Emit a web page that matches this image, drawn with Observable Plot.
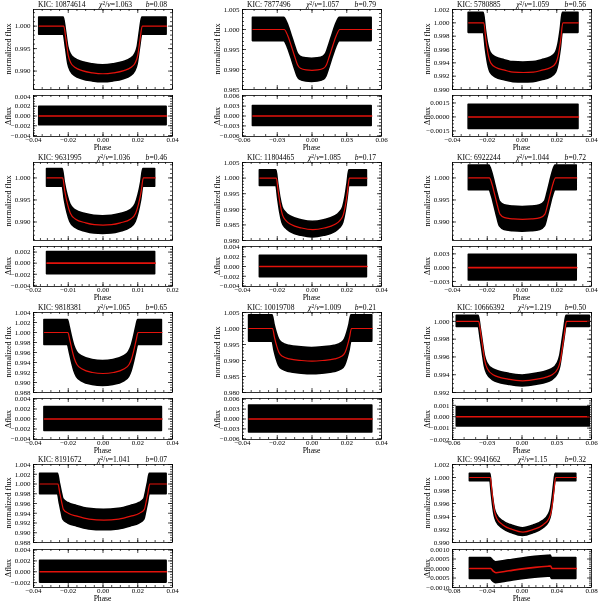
<!DOCTYPE html>
<html><head><meta charset="utf-8">
<script src="https://cdn.jsdelivr.net/npm/d3@7"></script>
<script src="https://cdn.jsdelivr.net/npm/@observablehq/plot@0.6"></script>
<style>
body{margin:0;background:#fff;}
#chart{position:relative;width:600px;height:604px;font-family:"Liberation Serif","Times New Roman",serif;color:#000;overflow:hidden;will-change:transform;}
#chart svg{position:absolute;overflow:visible;}
.title{position:absolute;display:flex;justify-content:space-between;font-size:7.6px;line-height:8px;white-space:nowrap;}
.title sup{font-size:5.5px;line-height:0;vertical-align:2px;}
.ylab{position:absolute;font-size:8px;line-height:8px;transform:translate(-50%,-50%) rotate(-90deg);white-space:nowrap;}
.xlab{position:absolute;font-size:7.6px;line-height:8px;transform:translateX(-50%);white-space:nowrap;}
</style></head><body><div id="chart"></div><script>
// ---------- data ----------
const kicIds = ["10874614","7877496","5780885","9631995","11804465","6922244","9818381","10019708","10666392","8191672","9941662"];
const chiSq  = ["1.063","1.057","1.059","1.036","1.085","1.044","1.065","1.009","1.219","1.041","1.15"];
const impactB = ["0.08","0.79","0.56","0.46","0.17","0.72","0.65","0.21","0.50","0.07","0.32"];

const phaseTicks = [
  [-0.04,-0.02,0,0.02,0.04],[-0.06,-0.03,0,0.03,0.06],[-0.04,-0.02,0,0.02,0.04],
  [-0.02,-0.01,0,0.01,0.02],[-0.04,-0.02,0,0.02,0.04],[-0.04,-0.02,0,0.02,0.04],
  [-0.04,-0.02,0,0.02,0.04],[-0.04,-0.02,0,0.02,0.04],[-0.06,-0.03,0,0.03,0.06],
  [-0.04,-0.02,0,0.02,0.04],[-0.08,-0.04,0,0.04,0.08]
];
const fluxTicks = [
  [0.990,0.995,1.000],[0.985,0.990,0.995,1.000,1.005],[0.990,0.992,0.994,0.996,0.998,1.000,1.002],
  [0.990,0.995,1.000],[0.980,0.985,0.990,0.995,1.000,1.005],[0.990,0.995,1.000],
  [0.988,0.990,0.992,0.994,0.996,0.998,1.000,1.002,1.004],[0.980,0.985,0.990,0.995,1.000,1.005],[0.992,0.994,0.996,0.998,1.000],
  [0.988,0.990,0.992,0.994,0.996,0.998,1.000,1.002,1.004],[0.990,0.992,0.994,0.996,0.998,1.000,1.002]
];
const residTicks = [
  [-0.004,-0.002,0,0.002,0.004],[-0.006,-0.003,0,0.003,0.006],[-0.0015,0,0.0015],
  [-0.004,-0.002,0,0.002],[-0.004,-0.002,0,0.002,0.004],[-0.003,0,0.003],
  [-0.004,-0.002,0,0.002,0.004],[-0.006,-0.003,0,0.003,0.006],[-0.002,-0.001,0,0.001],
  [-0.002,0,0.002,0.004],[-0.001,-0.0005,0,0.0005,0.001]
];
// transit model (red curve) read at key phases
const modelPhase = [
  [-0.0367,-0.0226,-0.0213,-0.0200,-0.0185,-0.0160,-0.0120,-0.0060,0,0.0060,0.0120,0.0160,0.0185,0.0200,0.0213,0.0226,0.0366],
  [-0.0510,-0.0240,-0.0210,-0.0180,-0.0150,-0.0125,-0.0100,-0.0050,0,0.0050,0.0100,0.0125,0.0150,0.0180,0.0210,0.0240,0.0515],
  [-0.0307,-0.0220,-0.0208,-0.0195,-0.0180,-0.0150,-0.0100,-0.0050,0.0008,0.0065,0.0115,0.0165,0.0195,0.0210,0.0223,0.0235,0.0325],
  [-0.0161,-0.0116,-0.0110,-0.0102,-0.0094,-0.0080,-0.0050,-0.0025,0,0.0025,0.0050,0.0080,0.0094,0.0102,0.0110,0.0116,0.0150],
  [-0.0300,-0.0205,-0.0195,-0.0183,-0.0170,-0.0150,-0.0120,-0.0060,0.0005,0.0070,0.0130,0.0160,0.0180,0.0193,0.0205,0.0215,0.0316],
  [-0.0306,-0.0188,-0.0172,-0.0157,-0.0142,-0.0127,-0.0100,-0.0050,0.0003,0.0055,0.0105,0.0132,0.0147,0.0162,0.0177,0.0193,0.0315],
  [-0.0337,-0.0202,-0.0191,-0.0178,-0.0165,-0.0150,-0.0120,-0.0060,0,0.0060,0.0120,0.0150,0.0165,0.0178,0.0191,0.0202,0.0339],
  [-0.0362,-0.0227,-0.0216,-0.0203,-0.0190,-0.0170,-0.0130,-0.0060,0,0.0060,0.0130,0.0170,0.0190,0.0203,0.0216,0.0227,0.0347],
  [-0.0563,-0.0374,-0.0356,-0.0338,-0.0320,-0.0300,-0.0250,-0.0120,0.0005,0.0130,0.0260,0.0310,0.0330,0.0348,0.0366,0.0384,0.0585],
  [-0.0362,-0.0259,-0.0249,-0.0238,-0.0228,-0.0200,-0.0150,-0.0080,0.0005,0.0090,0.0160,0.0210,0.0238,0.0248,0.0259,0.0269,0.0366],
  [-0.0600,-0.0364,-0.0349,-0.0332,-0.0315,-0.0290,-0.0220,-0.0110,0.0010,0.0130,0.0240,0.0310,0.0335,0.0352,0.0369,0.0387,0.0625]
];
const modelFlux = [
  [1.0000,1.0000,0.9970,0.9935,0.9918,0.9908,0.9901,0.9896,0.9894,0.9896,0.9901,0.9908,0.9918,0.9935,0.9970,1.0000,1.0000],
  [1.0000,1.0000,0.9985,0.9960,0.9933,0.9912,0.9903,0.9899,0.9898,0.9899,0.9903,0.9912,0.9933,0.9960,0.9985,1.0000,1.0000],
  [1.0000,1.0000,0.9975,0.9953,0.9940,0.9933,0.9929,0.9926,0.99255,0.9926,0.9929,0.9933,0.9940,0.9953,0.9975,1.0000,1.0000],
  [1.0000,1.0000,0.9970,0.9940,0.9920,0.9907,0.9898,0.9894,0.9893,0.9894,0.9898,0.9907,0.9920,0.9940,0.9970,1.0000,1.0000],
  [1.0000,1.0000,0.9960,0.9915,0.9882,0.9864,0.9851,0.9840,0.9835,0.9840,0.9851,0.9864,0.9882,0.9915,0.9960,1.0000,1.0000],
  [1.0000,1.0000,0.9985,0.9962,0.9938,0.9918,0.9910,0.9907,0.9906,0.9907,0.9910,0.9918,0.9938,0.9962,0.9985,1.0000,1.0000],
  [1.0000,1.0000,0.9985,0.9965,0.9948,0.9936,0.9927,0.9920,0.9918,0.9920,0.9927,0.9936,0.9948,0.9965,0.9985,1.0000,1.0000],
  [1.0000,1.0000,0.9972,0.9945,0.9925,0.9913,0.9905,0.9900,0.9898,0.9900,0.9905,0.9913,0.9925,0.9945,0.9972,1.0000,1.0000],
  [1.0000,1.0000,0.9986,0.9970,0.9955,0.9947,0.9940,0.9935,0.9933,0.9935,0.9940,0.9947,0.9955,0.9970,0.9986,1.0000,1.0000],
  [1.0000,1.0000,0.9982,0.9963,0.9948,0.9940,0.9934,0.9928,0.9926,0.9928,0.9934,0.9940,0.9948,0.9963,0.9982,1.0000,1.0000],
  [1.0000,1.0000,0.9982,0.9962,0.9947,0.9937,0.9927,0.9920,0.9916,0.9920,0.9927,0.9937,0.9947,0.9962,0.9982,1.0000,1.0000]
];
// half-width of the black cloud of observed points (flux and residual)
const fluxScatter  = [0.0019,0.0029,0.0015,0.0020,0.0025,0.0028,0.0025,0.0041,0.00062,0.0021,0.00058];
const residScatter = [0.0019,0.0030,0.0013,0.0020,0.0022,0.0028,0.0024,0.0041,0.00085,0.0020,0.00055];
// binned residual (red) line
const residPhase = [
  [-0.0367,0.0366],[-0.0510,0.0515],[-0.0307,0.0325],[-0.0161,0.0150],[-0.0300,0.0316],[-0.0306,0.0315],
  [-0.0337,0.0339],[-0.0362,0.0347],[-0.0563,0.0585],[-0.0362,0.0366],
  [-0.0600,-0.0360,-0.0335,-0.0300,-0.0150,0,0.0150,0.0300,0.0330,0.0345,0.0625]
];
const residFlux = [
  [0,0],[0,0],[0,0],[0,0],[0,0],[0,0],[0,0],[0,0],[0,0],[0,0],
  [0,0,-0.00012,-0.00022,-0.00012,-0.00002,0.00006,0.00012,0.00013,0,0]
];

// ---------- layout ----------
const phaseDomain = [[-0.04,0.04],[-0.06,0.06],[-0.04,0.04],[-0.02,0.02],[-0.04,0.04],[-0.04,0.04],[-0.04,0.04],[-0.04,0.04],[-0.06,0.06],[-0.04,0.04],[-0.08,0.08]];
const fluxDomain = [[0.9859,1.0037],[0.985,1.005],[0.990,1.002],[0.9858,1.0035],[0.980,1.005],[0.9858,1.0035],[0.988,1.004],[0.980,1.005],[0.992,1.001],[0.988,1.004],[0.990,1.002]];
const residDomain = [[-0.0042,0.0042],[-0.0062,0.0062],[-0.0021,0.0023],[-0.0042,0.0030],[-0.0041,0.0041],[-0.0041,0.0046],[-0.0041,0.0041],[-0.0062,0.0062],[-0.0020,0.0016],[-0.0029,0.0041],[-0.0010,0.0010]];
const residDec = [3,3,4,3,3,3,3,3,3,3,4];
const slots = [[0,0],[1,0],[2,0],[0,1],[1,1],[2,1],[0,2],[1,2],[2,2],[0,3],[2,3]];
const colLeft = [33,242,452], rowTop = [9,162,312,464], topH = [80,78,80,78], resH = [41,40,41,38], gaps = [6,6,6,7];
const FW = 139, ML = 36, MR = 16;
const RED = "#e3120b";
const FONT = "'Liberation Serif','Times New Roman',serif";

const chart = document.getElementById("chart");

function minorTicks(domain, major) {
  const step = Math.abs(major[1] - major[0]);
  const lead = Math.round(step / Math.pow(10, Math.floor(Math.log10(step) + 1e-9)));
  const div = lead === 2 ? 4 : lead === 3 ? 3 : 5;
  const s = step / div, out = [];
  for (let k = Math.ceil(domain[0] / s - 1e-6); k * s <= domain[1] + 1e-12; k++) out.push(k * s);
  return out;
}
function boxTicks(xDom, xMaj, yDom, yMaj, fh) {
  const xMin = minorTicks(xDom, xMaj), yMin = minorTicks(yDom, yMaj);
  const o = {strokeWidth: 0.7};
  return [
    Plot.tickX(xMaj, {x: d => d, insetTop: fh - 4, ...o}),
    Plot.tickX(xMaj, {x: d => d, insetBottom: fh - 4, ...o}),
    Plot.tickX(xMin, {x: d => d, insetTop: fh - 2, ...o}),
    Plot.tickX(xMin, {x: d => d, insetBottom: fh - 2, ...o}),
    Plot.tickY(yMaj, {y: d => d, insetRight: FW - 4, ...o}),
    Plot.tickY(yMaj, {y: d => d, insetLeft: FW - 4, ...o}),
    Plot.tickY(yMin, {y: d => d, insetRight: FW - 2, ...o}),
    Plot.tickY(yMin, {y: d => d, insetLeft: FW - 2, ...o})
  ];
}
function place(el, left, top) { el.style.left = left + "px"; el.style.top = top + "px"; chart.appendChild(el); }
function div(cls, html, left, top, extra) {
  const d = document.createElement("div"); d.className = cls; d.innerHTML = html;
  if (extra) Object.assign(d.style, extra);
  place(d, left, top); return d;
}

kicIds.forEach((kic, i) => {
  const [c, r] = slots[i];
  const L = colLeft[c], T = rowTop[r], th = topH[r], rh = resH[r];
  const model = modelPhase[i].map((p, j) => ({p, f: modelFlux[i][j]}));
  const resid = residPhase[i].map((p, j) => ({p, f: residFlux[i][j]}));
  const n = fluxScatter[i], rn = residScatter[i];

  const topPlot = Plot.plot({
    width: FW + ML + MR, height: th + 4,
    marginLeft: ML, marginRight: MR, marginTop: 2, marginBottom: 2,
    x: {domain: phaseDomain[i], axis: null},
    y: {domain: fluxDomain[i], axis: null},
    style: {fontFamily: FONT, fontSize: "7px", background: "none"},
    marks: [
      Plot.areaY(model, {x: "p", y1: d => d.f - n, y2: d => d.f + n, fill: "#000", stroke: "#000", strokeWidth: 1.6, strokeLinejoin: "round", curve: "monotone-x", clip: true}),
      Plot.line(model, {x: "p", y: "f", stroke: RED, strokeWidth: 1.2, curve: "monotone-x", clip: true}),
      ...boxTicks(phaseDomain[i], phaseTicks[i], fluxDomain[i], fluxTicks[i], th),
      Plot.axisY(fluxTicks[i], {anchor: "left", tickSize: 0, tickPadding: 3, tickFormat: d3.format(".3f"), label: null}),
      Plot.frame({strokeWidth: 0.8})
    ]
  });
  place(topPlot, L - ML, T - 2);

  const rT = T + th + gaps[r];
  const resPlot = Plot.plot({
    width: FW + ML + MR, height: rh + 12,
    marginLeft: ML, marginRight: MR, marginTop: 2, marginBottom: 10,
    x: {domain: phaseDomain[i], axis: null},
    y: {domain: residDomain[i], axis: null},
    style: {fontFamily: FONT, fontSize: "7px", background: "none"},
    marks: [
      Plot.areaY(resid, {x: "p", y1: d => d.f - rn, y2: d => d.f + rn, fill: "#000", stroke: "#000", strokeWidth: 1.6, curve: "monotone-x", clip: true}),
      Plot.line(resid, {x: "p", y: "f", stroke: RED, strokeWidth: 1.6, curve: "monotone-x", clip: true}),
      ...boxTicks(phaseDomain[i], phaseTicks[i], residDomain[i], residTicks[i], rh),
      Plot.axisY(residTicks[i], {anchor: "left", tickSize: 0, tickPadding: 3, tickFormat: d3.format("." + residDec[i] + "f"), label: null}),
      Plot.axisX(phaseTicks[i], {anchor: "bottom", tickSize: 0, tickPadding: 1, tickFormat: d3.format(".2f"), label: null}),
      Plot.frame({strokeWidth: 0.8})
    ]
  });
  place(resPlot, L - ML, rT - 2);

  // texts
  div("title", `<span>KIC: ${kic}</span><span><i>χ</i><sup>2</sup>/<i>ν</i>=${chiSq[i]}</span><span><i>b</i>=${impactB[i]}</span>`,
      L + 5, Math.max(1, T - 8), {width: (FW - 10) + "px"});
  div("ylab", "normalized flux", L - 24, T + th / 2);
  div("ylab", "Δflux", L - 24, rT + rh / 2);
  div("xlab", "Phase", L + FW / 2, rT + rh + 8);
});
</script></body></html>
